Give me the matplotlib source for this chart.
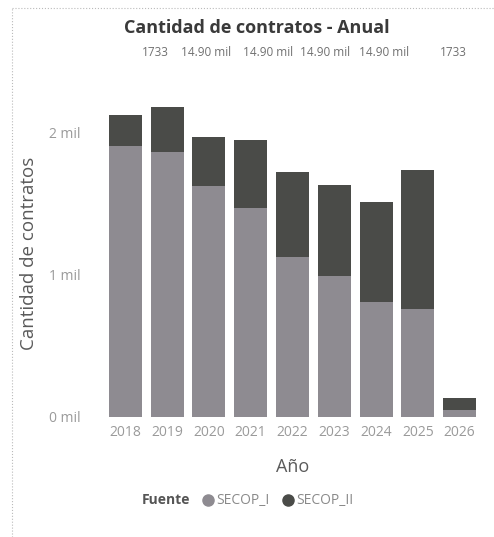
import matplotlib
matplotlib.use("Agg")
import matplotlib.pyplot as plt
from matplotlib.lines import Line2D

years = ["2018", "2019", "2020", "2021", "2022", "2023", "2024", "2025", "2026"]
secop_i = [1906, 1864, 1628, 1471, 1129, 993, 812, 758, 52]
secop_ii = [219, 317, 344, 482, 596, 638, 701, 981, 82]
y_ticks = [0, 1000, 2000]
y_tick_labels = ["0 mil", "1 mil", "2 mil"]
top_labels = ["1733", "14.90 mil", "14.90 mil", "14.90 mil", "14.90 mil", "1733"]
top_label_pos = [0.71, 1.93, 3.41, 4.78, 6.19, 7.84]

c1 = "#8e8b91"
c2 = "#4a4b48"
FONT = ["Open Sans", "DejaVu Sans"]
plt.rcParams["font.family"] = FONT

W, H = 494, 537
fig = plt.figure(figsize=(W / 100, H / 100), dpi=100)
ax = fig.add_axes([104.6 / W, (H - 417) / H, 375.8 / W, 326.6 / H])

x = list(range(len(years)))
ax.bar(x, secop_i, width=0.79, color=c1)
ax.bar(x, secop_ii, width=0.79, bottom=secop_i, color=c2)
ax.set_xlim(-0.5, 8.5)
ax.set_ylim(0, 2300)
ax.set_yticks(y_ticks)
ax.set_yticklabels(y_tick_labels)
ax.set_xticks(x)
ax.set_xticklabels(years)
for s in ax.spines.values():
    s.set_visible(False)
ax.tick_params(length=0, colors="#9a9a9a", labelsize=10)
ax.tick_params(axis="y", pad=17)
ax.tick_params(axis="x", pad=6)

ax.set_xlabel("Año", fontsize=13, color="#5a5a5a", labelpad=12.5)
ax.set_ylabel("Cantidad de contratos", fontsize=13.5, color="#5a5a5a", labelpad=8.5)

fig.text(257 / W, 1 - 28 / H, "Cantidad de contratos - Anual", ha="center", va="center",
         fontsize=13, fontweight="bold", color="#3a3a3a")

for lbl, pos in zip(top_labels, top_label_pos):
    ax.text(pos, 1 - (53 - 90.4) / 326.6 - 0.0, lbl, transform=ax.get_xaxis_transform(),
            ha="center", va="center", fontsize=8.5, color="#707070")

# legend
ly = 1 - 500 / H
fig.text(142 / W, ly, "Fuente", ha="left", va="center", fontsize=10, fontweight="bold", color="#555555")
fig.add_artist(Line2D([208 / W], [ly], marker="o", markersize=8, color=c1, linestyle="none",
                      transform=fig.transFigure))
fig.text(216 / W, ly, "SECOP_I", ha="left", va="center", fontsize=10, color="#8a8a8a")
fig.add_artist(Line2D([288 / W], [ly], marker="o", markersize=8, color=c2, linestyle="none",
                      transform=fig.transFigure))
fig.text(296 / W, ly, "SECOP_II", ha="left", va="center", fontsize=10, color="#8a8a8a")

# dotted frame lines
fig.add_artist(Line2D([12 / W, 12 / W], [0, 1 - 8 / H], color="#bbbbbb", linestyle=":", linewidth=0.8,
                      transform=fig.transFigure))
fig.add_artist(Line2D([12 / W, 1], [1 - 8 / H, 1 - 8 / H], color="#bbbbbb", linestyle=":", linewidth=0.8,
                      transform=fig.transFigure))

fig.savefig("out.png", dpi=100)
